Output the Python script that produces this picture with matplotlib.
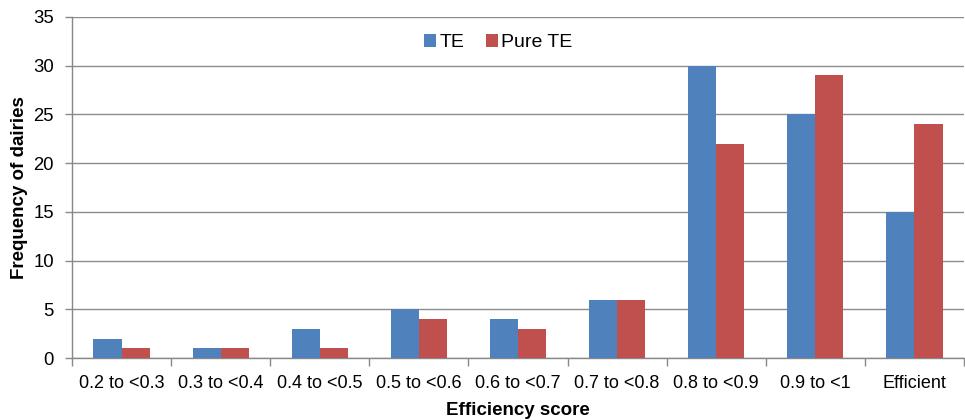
import numpy as np
import matplotlib
matplotlib.use('Agg')
import matplotlib.pyplot as plt

plt.rcParams['font.family'] = ['Liberation Sans', 'DejaVu Sans']

# Data.
categories = ['0.2 to <0.3', '0.3 to <0.4', '0.4 to <0.5', '0.5 to <0.6',
              '0.6 to <0.7', '0.7 to <0.8', '0.8 to <0.9', '0.9 to <1',
              'Efficient']
te = [2, 1, 3, 5, 4, 6, 30, 25, 15]
pure_te = [1, 1, 1, 4, 3, 6, 22, 29, 24]
y_ticks = [0, 5, 10, 15, 20, 25, 30, 35]

fig = plt.figure(figsize=(9.65, 4.2), dpi=100)
ax = fig.add_axes([0.0746, 0.1476, 0.9244, 0.812])

x = np.arange(len(categories))
w = 0.283
ax.bar(x - w / 2, te, w, color='#4F81BD', label='TE', zorder=3)
ax.bar(x + w / 2, pure_te, w, color='#C0504D', label='Pure TE', zorder=3)

ax.set_xlim(-0.5, len(categories) - 0.5)
ax.set_ylim(0, 35)
ax.set_yticks(y_ticks)
ax.set_xticks(x)
ax.set_xticklabels(categories, fontsize=13)
ax.tick_params(axis='y', labelsize=13.3, length=5, color='#888888', width=1, pad=8)
ax.tick_params(axis='x', which='major', length=0, pad=12)
ax.set_xticks(np.arange(-0.5, len(categories)), minor=True)
ax.tick_params(axis='x', which='minor', length=6, color='#888888', width=1)

ax.yaxis.grid(True, color='#8c8c8c', linewidth=1, zorder=0)
for s in ['top', 'right']:
    ax.spines[s].set_visible(False)
for s in ['left', 'bottom']:
    ax.spines[s].set_color('#888888')
    ax.spines[s].set_linewidth(1)

ax.set_xlabel('Efficiency score', fontsize=13.5, fontweight='bold', labelpad=7.5)
ax.set_ylabel('Frequency of dairies', fontsize=13.5, fontweight='bold', labelpad=4)

ax.legend(loc='upper center', bbox_to_anchor=(0.478, 1.0), ncol=2,
          frameon=False, fontsize=14, handlelength=0.6, handleheight=0.6,
          handletextpad=0.2, columnspacing=1.1)

plt.savefig('out.png', dpi=100)
plt.close()
